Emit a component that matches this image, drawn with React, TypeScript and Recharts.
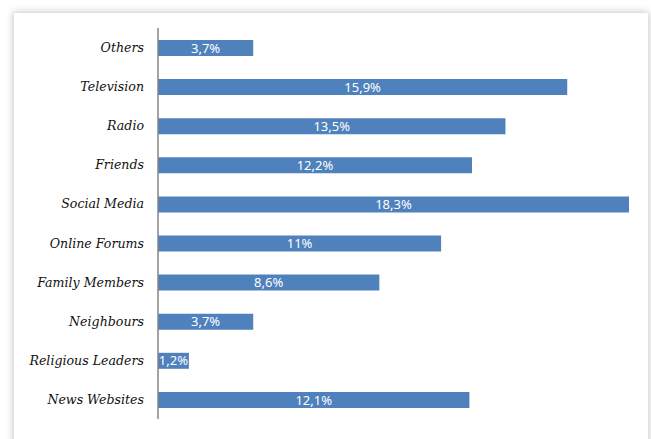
import React from 'react';
import { BarChart, Bar, XAxis, YAxis, LabelList } from 'recharts';

const categories = [
  'Others',
  'Television',
  'Radio',
  'Friends',
  'Social Media',
  'Online Forums',
  'Family Members',
  'Neighbours',
  'Religious Leaders',
  'News Websites',
];
const values = [3.7, 15.9, 13.5, 12.2, 18.3, 11, 8.6, 3.7, 1.2, 12.1];
const valueLabels = ['3,7%', '15,9%', '13,5%', '12,2%', '18,3%', '11%', '8,6%', '3,7%', '1,2%', '12,1%'];

const data = categories.map((c, i) => ({ name: c, value: values[i], label: valueLabels[i] }));

const CategoryTick = (props: any) => {
  const { x, y, payload } = props;
  return (
    <text
      x={x}
      y={y}
      dy={4.5}
      textAnchor="end"
      fill="#111111"
      fontFamily="'DejaVu Serif', serif"
      fontStyle="italic"
      fontSize={12.6}
    >
      {payload.value}
    </text>
  );
};

export default function App() {
  return (
    <div style={{ position: 'fixed', left: 0, top: 0, width: 651, height: 439, background: '#ffffff', overflow: 'hidden' }}>
      <div
        style={{
          position: 'absolute',
          left: 14,
          top: 13,
          width: 634,
          height: 440,
          background: '#ffffff',
          boxShadow: '0 0 7px 1px rgba(0,0,0,0.22)',
        }}
      />
      <div style={{ position: 'absolute', left: 0, top: 0 }}>
        <BarChart
          width={651}
          height={439}
          data={data}
          layout="vertical"
          margin={{ top: 28, right: 22, bottom: 20, left: 0 }}
          barSize={16}
        >
          <XAxis type="number" domain={[0, 18.3]} hide />
          <YAxis
            type="category"
            dataKey="name"
            width={158}
            axisLine={{ stroke: '#868686', strokeWidth: 1.5 }}
            tickLine={false}
            tickMargin={8}
            tick={<CategoryTick />}
            interval={0}
          />
          <Bar dataKey="value" fill="#4F81BD" isAnimationActive={false}>
            <LabelList
              dataKey="label"
              position="center"
              fill="#ffffff"
              fontFamily="'Noto Sans', sans-serif"
              fontSize={13}
            />
          </Bar>
        </BarChart>
      </div>
    </div>
  );
}
